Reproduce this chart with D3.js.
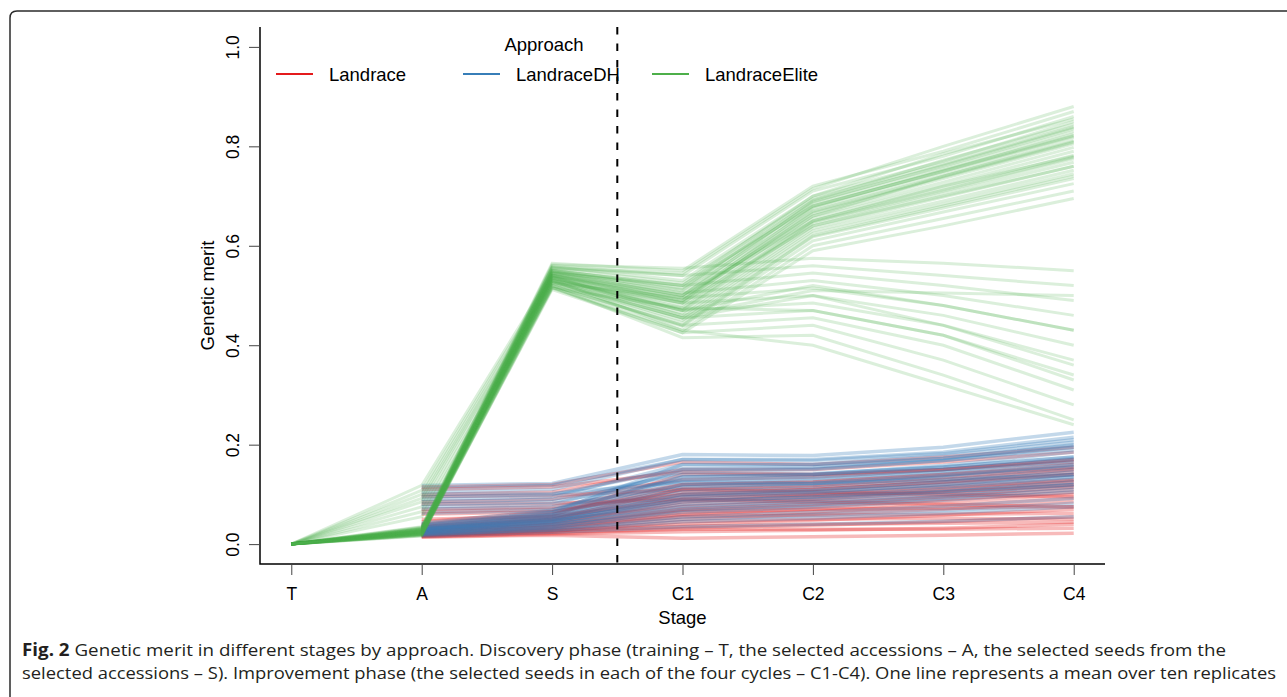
<!DOCTYPE html>
<html>
<head>
<meta charset="utf-8">
<script src="https://cdnjs.cloudflare.com/ajax/libs/d3/7.8.5/d3.min.js"></script>
<style>
  html, body { margin: 0; padding: 0; background: #fff; }
  svg { display: block; }
</style>
</head>
<body>
<div id="chart"></div>
<script>
// stages on the x axis
const stages = ["T", "A", "S", "C1", "C2", "C3", "C4"];
const yTicks = [0, 0.2, 0.4, 0.6, 0.8, 1.0];
const approaches = ["Landrace", "LandraceDH", "LandraceElite"];
const colors = ["#E41A1C", "#377EB8", "#4DAF4A"];

// one row = one line (mean over ten replicates), values at T..C4
const landraceLines = [
  [null, 0.115, 0.120, 0.165, 0.160, 0.175, 0.195],
  [null, 0.100, 0.105, 0.150, 0.150, 0.165, 0.185],
  [null, 0.085, 0.090, 0.130, 0.135, 0.150, 0.170],
  [null, 0.070, 0.075, 0.120, 0.125, 0.140, 0.160],
  [null, 0.060, 0.065, 0.105, 0.110, 0.125, 0.140],
  [null, 0.095, 0.098, 0.110, 0.105, 0.100, 0.095],
  [null, 0.080, 0.082, 0.090, 0.085, 0.080, 0.075],
  [null, 0.040, 0.060, 0.120, 0.125, 0.140, 0.155],
  [null, 0.035, 0.055, 0.100, 0.110, 0.125, 0.145],
  [null, 0.030, 0.050, 0.090, 0.100, 0.115, 0.130],
  [null, 0.028, 0.045, 0.080, 0.090, 0.105, 0.120],
  [null, 0.025, 0.040, 0.070, 0.080, 0.095, 0.110],
  [null, 0.022, 0.035, 0.060, 0.070, 0.085, 0.100],
  [null, 0.020, 0.030, 0.050, 0.060, 0.070, 0.085],
  [null, 0.018, 0.028, 0.040, 0.048, 0.058, 0.070],
  [null, 0.016, 0.024, 0.032, 0.038, 0.045, 0.055],
  [null, 0.015, 0.020, 0.025, 0.028, 0.032, 0.040],
  [null, 0.014, 0.018, 0.012, 0.015, 0.018, 0.022],
  [null, 0.032, 0.052, 0.095, 0.105, 0.120, 0.140],
  [null, 0.026, 0.044, 0.085, 0.098, 0.112, 0.128],
  [null, 0.024, 0.038, 0.065, 0.070, 0.072, 0.075],
  [null, 0.020, 0.032, 0.055, 0.058, 0.060, 0.062],
  [null, 0.045, 0.065, 0.110, 0.115, 0.130, 0.150],
  [null, 0.038, 0.058, 0.140, 0.140, 0.150, 0.165],
  [null, 0.030, 0.048, 0.075, 0.085, 0.098, 0.115],
  [null, 0.018, 0.026, 0.045, 0.050, 0.052, 0.050],
  [null, 0.110, 0.115, 0.145, 0.140, 0.150, 0.170],
  [null, 0.065, 0.070, 0.100, 0.098, 0.105, 0.118],
  [null, 0.022, 0.034, 0.058, 0.065, 0.078, 0.092],
  [null, 0.016, 0.022, 0.030, 0.030, 0.030, 0.032],
  [null, 0.050, 0.056, 0.088, 0.092, 0.108, 0.125],
  [null, 0.027, 0.040, 0.068, 0.076, 0.090, 0.104],
  [null, 0.019, 0.027, 0.036, 0.040, 0.042, 0.044],
  [null, 0.034, 0.050, 0.112, 0.118, 0.134, 0.152]
];

const landraceDHLines = [
  [null, 0.118, 0.122, 0.180, 0.178, 0.195, 0.225],
  [null, 0.105, 0.110, 0.170, 0.170, 0.185, 0.215],
  [null, 0.090, 0.095, 0.160, 0.160, 0.178, 0.205],
  [null, 0.075, 0.080, 0.145, 0.150, 0.168, 0.195],
  [null, 0.062, 0.068, 0.135, 0.140, 0.158, 0.185],
  [null, 0.100, 0.102, 0.125, 0.122, 0.130, 0.140],
  [null, 0.042, 0.068, 0.150, 0.152, 0.168, 0.190],
  [null, 0.038, 0.062, 0.135, 0.140, 0.155, 0.175],
  [null, 0.034, 0.058, 0.120, 0.128, 0.145, 0.165],
  [null, 0.032, 0.054, 0.110, 0.118, 0.135, 0.155],
  [null, 0.030, 0.050, 0.100, 0.108, 0.125, 0.145],
  [null, 0.028, 0.046, 0.090, 0.100, 0.115, 0.135],
  [null, 0.026, 0.042, 0.080, 0.090, 0.105, 0.125],
  [null, 0.024, 0.040, 0.072, 0.082, 0.096, 0.115],
  [null, 0.022, 0.036, 0.064, 0.074, 0.088, 0.105],
  [null, 0.020, 0.032, 0.055, 0.064, 0.076, 0.092],
  [null, 0.018, 0.028, 0.045, 0.052, 0.062, 0.075],
  [null, 0.016, 0.024, 0.035, 0.040, 0.046, 0.055],
  [null, 0.036, 0.060, 0.128, 0.135, 0.150, 0.172],
  [null, 0.030, 0.052, 0.105, 0.112, 0.128, 0.150],
  [null, 0.027, 0.045, 0.095, 0.104, 0.120, 0.140],
  [null, 0.025, 0.043, 0.085, 0.095, 0.110, 0.130],
  [null, 0.023, 0.038, 0.076, 0.086, 0.100, 0.120],
  [null, 0.021, 0.034, 0.068, 0.078, 0.092, 0.110],
  [null, 0.085, 0.090, 0.140, 0.142, 0.155, 0.175],
  [null, 0.070, 0.074, 0.118, 0.122, 0.138, 0.158],
  [null, 0.040, 0.064, 0.160, 0.160, 0.172, 0.198],
  [null, 0.033, 0.056, 0.115, 0.122, 0.138, 0.160],
  [null, 0.019, 0.030, 0.050, 0.058, 0.068, 0.082],
  [null, 0.112, 0.118, 0.170, 0.168, 0.182, 0.210],
  [null, 0.095, 0.100, 0.152, 0.155, 0.172, 0.200],
  [null, 0.080, 0.085, 0.128, 0.132, 0.146, 0.168],
  [null, 0.031, 0.049, 0.098, 0.106, 0.118, 0.136],
  [null, 0.029, 0.047, 0.088, 0.094, 0.106, 0.120]
];

const landraceEliteLines = [
  [0, 0.118, 0.545, 0.520, 0.680, 0.750, 0.820],
  [0, 0.108, 0.540, 0.500, 0.650, 0.720, 0.780],
  [0, 0.100, 0.535, 0.470, 0.520, 0.480, 0.430],
  [0, 0.092, 0.530, 0.485, 0.640, 0.700, 0.760],
  [0, 0.085, 0.528, 0.455, 0.500, 0.440, 0.360],
  [0, 0.075, 0.525, 0.495, 0.660, 0.740, 0.810],
  [0, 0.065, 0.520, 0.440, 0.620, 0.680, 0.740],
  [0, 0.055, 0.515, 0.475, 0.470, 0.420, 0.330],
  [0, 0.035, 0.565, 0.550, 0.720, 0.790, 0.870],
  [0, 0.032, 0.560, 0.540, 0.710, 0.780, 0.860],
  [0, 0.030, 0.558, 0.530, 0.700, 0.770, 0.850],
  [0, 0.028, 0.555, 0.525, 0.695, 0.765, 0.840],
  [0, 0.027, 0.552, 0.515, 0.690, 0.760, 0.835],
  [0, 0.026, 0.550, 0.510, 0.685, 0.755, 0.830],
  [0, 0.025, 0.548, 0.505, 0.680, 0.750, 0.825],
  [0, 0.024, 0.546, 0.500, 0.675, 0.745, 0.818],
  [0, 0.023, 0.544, 0.495, 0.670, 0.740, 0.812],
  [0, 0.022, 0.542, 0.490, 0.665, 0.735, 0.805],
  [0, 0.021, 0.540, 0.485, 0.660, 0.728, 0.798],
  [0, 0.020, 0.538, 0.480, 0.655, 0.722, 0.790],
  [0, 0.019, 0.536, 0.475, 0.650, 0.716, 0.782],
  [0, 0.018, 0.534, 0.470, 0.645, 0.710, 0.775],
  [0, 0.017, 0.532, 0.465, 0.640, 0.705, 0.768],
  [0, 0.030, 0.530, 0.460, 0.635, 0.698, 0.760],
  [0, 0.028, 0.528, 0.455, 0.630, 0.690, 0.752],
  [0, 0.026, 0.526, 0.450, 0.625, 0.684, 0.745],
  [0, 0.024, 0.524, 0.445, 0.618, 0.676, 0.735],
  [0, 0.022, 0.520, 0.438, 0.610, 0.668, 0.725],
  [0, 0.020, 0.516, 0.430, 0.600, 0.655, 0.710],
  [0, 0.033, 0.556, 0.545, 0.715, 0.800, 0.880],
  [0, 0.029, 0.550, 0.520, 0.700, 0.785, 0.855],
  [0, 0.025, 0.545, 0.500, 0.688, 0.762, 0.838],
  [0, 0.021, 0.540, 0.490, 0.678, 0.752, 0.822],
  [0, 0.019, 0.512, 0.425, 0.590, 0.640, 0.695],
  [0, 0.031, 0.548, 0.512, 0.692, 0.772, 0.845],
  [0, 0.023, 0.541, 0.488, 0.668, 0.738, 0.808],
  [0, 0.027, 0.536, 0.472, 0.648, 0.712, 0.778],
  [0, 0.034, 0.562, 0.555, 0.575, 0.565, 0.550],
  [0, 0.031, 0.555, 0.540, 0.560, 0.540, 0.520],
  [0, 0.029, 0.550, 0.520, 0.545, 0.520, 0.490],
  [0, 0.027, 0.545, 0.505, 0.530, 0.500, 0.460],
  [0, 0.025, 0.540, 0.495, 0.515, 0.480, 0.430],
  [0, 0.023, 0.535, 0.485, 0.500, 0.460, 0.400],
  [0, 0.021, 0.530, 0.470, 0.485, 0.440, 0.370],
  [0, 0.019, 0.525, 0.455, 0.470, 0.420, 0.340],
  [0, 0.017, 0.520, 0.440, 0.455, 0.400, 0.310],
  [0, 0.016, 0.515, 0.425, 0.440, 0.370, 0.280],
  [0, 0.020, 0.518, 0.415, 0.420, 0.340, 0.250],
  [0, 0.024, 0.532, 0.430, 0.400, 0.320, 0.240],
  [0, 0.026, 0.538, 0.460, 0.510, 0.505, 0.500]
];

const captionLine1 = " Genetic merit in different stages by approach. Discovery phase (training – T, the selected accessions – A, the selected seeds from the";
const captionLine2 = "selected accessions – S). Improvement phase (the selected seeds in each of the four cycles – C1-C4). One line represents a mean over ten replicates";

const W = 1287, H = 697;
const margin = {top: 27, right: 182, bottom: 133, left: 260};
const font = "'Liberation Sans', Arial, Helvetica, sans-serif";

const svg = d3.select("#chart").append("svg")
  .attr("width", W)
  .attr("height", H);

// figure frame with rounded corner
svg.append("path")
  .attr("d", "M10,697 L10,18 Q10,11 17,11 L1287,11")
  .attr("fill", "none")
  .attr("stroke", "#2b2b2b")
  .attr("stroke-width", 1.5);

// x: stage index 1..7 padded like R (4%)
const x = d3.scaleLinear()
  .domain([0.76, 7.24])
  .range([margin.left, W - margin.right]);

const y = d3.scaleLinear()
  .domain([-0.04, 1.04])
  .range([H - margin.bottom, margin.top]);

const line = d3.line()
  .defined(d => d != null)
  .x((d, i) => x(i + 1))
  .y(d => y(d));

const plot = svg.append("g");

// Landrace first, LandraceDH on top, then elite
plot.selectAll(".landrace")
  .data(landraceLines)
  .enter().append("path")
  .attr("class", "landrace")
  .attr("d", d => line(d))
  .attr("fill", "none")
  .attr("stroke", colors[0])
  .attr("stroke-opacity", 0.3)
  .attr("stroke-width", 3.5);

plot.selectAll(".dh")
  .data(landraceDHLines)
  .enter().append("path")
  .attr("class", "dh")
  .attr("d", d => line(d))
  .attr("fill", "none")
  .attr("stroke", colors[1])
  .attr("stroke-opacity", 0.3)
  .attr("stroke-width", 3.5);

plot.selectAll(".elite")
  .data(landraceEliteLines)
  .enter().append("path")
  .attr("class", "elite")
  .attr("d", d => line(d))
  .attr("fill", "none")
  .attr("stroke", colors[2])
  .attr("stroke-opacity", 0.2)
  .attr("stroke-width", 3);

// dashed line between discovery and improvement phase
svg.append("line")
  .attr("x1", x(3.5)).attr("x2", x(3.5))
  .attr("y1", margin.top).attr("y2", H - margin.bottom)
  .attr("stroke", "#000")
  .attr("stroke-width", 2)
  .attr("stroke-dasharray", "7.5,9");

// L shaped box
svg.append("path")
  .attr("d", "M" + margin.left + "," + margin.top + " V" + (H - margin.bottom) + " H" + (W - margin.right))
  .attr("fill", "none")
  .attr("stroke", "#000")
  .attr("stroke-width", 1.5);

// Add the X Axis
const xAxis = svg.append("g")
  .attr("transform", "translate(0," + (H - margin.bottom) + ")")
  .call(d3.axisBottom(x)
    .tickValues(d3.range(1, stages.length + 1))
    .tickFormat(i => stages[i - 1])
    .tickSize(11)
    .tickSizeOuter(0));
xAxis.select(".domain").remove();
xAxis.selectAll(".tick line").attr("stroke", "#444");
xAxis.selectAll(".tick text")
  .attr("y", 36).attr("dy", 0)
  .style("font-family", font)
  .style("font-size", "17.5px")
  .attr("fill", "#000");

// Add the Y Axis
const yAxis = svg.append("g")
  .attr("transform", "translate(" + margin.left + ",0)")
  .call(d3.axisLeft(y)
    .tickValues(yTicks)
    .tickFormat(d3.format(".1f"))
    .tickSize(11)
    .tickSizeOuter(0));
yAxis.select(".domain").remove();
yAxis.selectAll(".tick line").attr("stroke", "#444");
yAxis.selectAll(".tick text")
  .attr("transform", "rotate(-90)")
  .attr("x", 0).attr("y", -21).attr("dy", 0)
  .attr("text-anchor", "middle")
  .style("font-family", font)
  .style("font-size", "17.5px")
  .attr("fill", "#000");

// axis titles
svg.append("text")
  .attr("x", (margin.left + W - margin.right) / 2)
  .attr("y", 624)
  .attr("text-anchor", "middle")
  .style("font-family", font)
  .style("font-size", "18.5px")
  .text("Stage");

svg.append("text")
  .attr("transform", "translate(214," + ((margin.top + H - margin.bottom) / 2) + ") rotate(-90)")
  .attr("text-anchor", "middle")
  .style("font-family", font)
  .style("font-size", "18.5px")
  .text("Genetic merit");

// legend
const legend = svg.append("g");
legend.append("text")
  .attr("x", 544).attr("y", 51)
  .attr("text-anchor", "middle")
  .style("font-family", font)
  .style("font-size", "18.5px")
  .text("Approach");

const legendX = [276, 463, 652];
approaches.forEach((name, i) => {
  legend.append("line")
    .attr("x1", legendX[i]).attr("x2", legendX[i] + 37)
    .attr("y1", 74).attr("y2", 74)
    .attr("stroke", colors[i])
    .attr("stroke-width", 2);
  legend.append("text")
    .attr("x", legendX[i] + 53).attr("y", 80.5)
    .style("font-family", font)
    .style("font-size", "18.5px")
    .text(name);
});

// caption
const cap1 = svg.append("text")
  .attr("x", 22).attr("y", 656)
  .attr("textLength", 1204)
  .attr("lengthAdjust", "spacingAndGlyphs")
  .style("font-family", "'Open Sans', 'Noto Sans', sans-serif")
  .style("font-size", "17px")
  .attr("fill", "#231f20");
cap1.append("tspan").style("font-weight", "bold").text("Fig. 2");
cap1.append("tspan").text(captionLine1);

svg.append("text")
  .attr("x", 22).attr("y", 679)
  .attr("textLength", 1254)
  .attr("lengthAdjust", "spacingAndGlyphs")
  .style("font-family", "'Open Sans', 'Noto Sans', sans-serif")
  .style("font-size", "17px")
  .attr("fill", "#231f20")
  .text(captionLine2);
</script>
</body>
</html>
